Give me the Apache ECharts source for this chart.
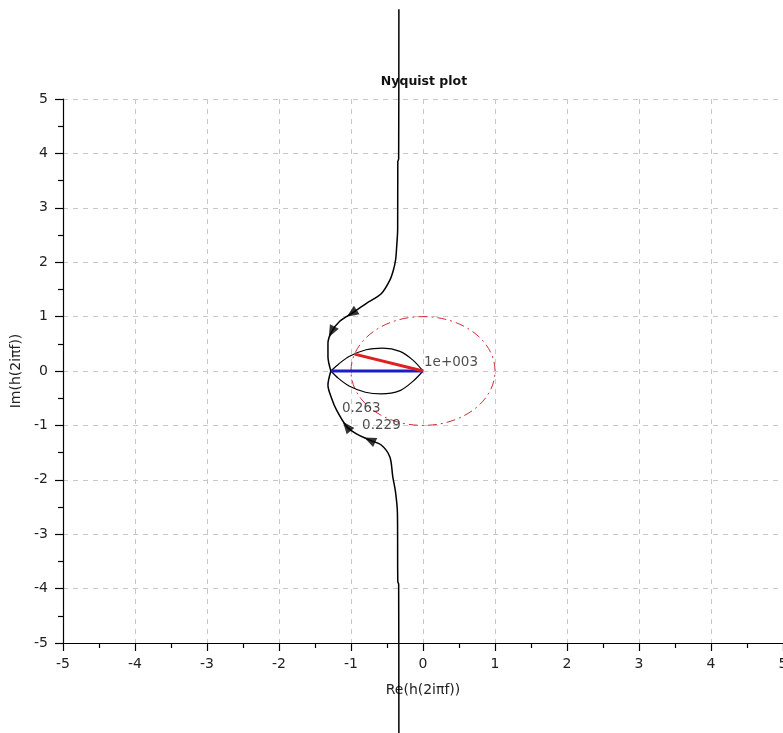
<!DOCTYPE html>
<html>
<head>
<meta charset="utf-8">
<title>Nyquist plot</title>
<script src="https://cdn.jsdelivr.net/npm/echarts@6/dist/echarts.min.js"></script>
<style>
  html, body { margin: 0; padding: 0; background: #ffffff; }
  #chart { width: 783px; height: 733px; }
</style>
</head>
<body>
<div id="chart"></div>
<script>
// Axis range and ticks (both axes run from -5 to 5)
const axisMin = -5;
const axisMax = 5;
const axisStep = 1;

// Nyquist locus: upper branch, traced from the top down to the real-axis crossing
const upperBranch = [
  [-0.335, 6.65], [-0.338, 3.9], [-0.35, 3.85], [-0.352, 2.6], [-0.365, 2.3],
  [-0.38, 2.05], [-0.41, 1.86], [-0.46, 1.67], [-0.58, 1.42], [-0.79, 1.24],
  [-0.99, 1.06], [-1.16, 0.91], [-1.27, 0.72], [-1.32, 0.51], [-1.32, 0.26],
  [-1.28, 0]
];

// Nyquist locus: lower branch, traced from the bottom up to the real-axis crossing
const lowerBranch = [
  [-0.335, -6.75], [-0.338, -3.92], [-0.35, -3.87], [-0.355, -2.62], [-0.38, -2.24],
  [-0.42, -1.94], [-0.46, -1.58], [-0.58, -1.36], [-0.74, -1.27], [-0.93, -1.15],
  [-1.06, -1.02], [-1.20, -0.72], [-1.27, -0.50], [-1.32, -0.26], [-1.28, 0]
];

// Closed loop between the crossing point and the origin
const loopUpper = [
  [-1.28, 0], [-1.17, 0.13], [-1.02, 0.27], [-0.79, 0.39], [-0.56, 0.42],
  [-0.32, 0.36], [-0.14, 0.2], [0, 0]
];
const loopLower = [
  [-1.28, 0], [-1.17, -0.14], [-1.02, -0.28], [-0.80, -0.39], [-0.58, -0.42],
  [-0.32, -0.36], [-0.14, -0.19], [0, 0]
];

// Gain margin segment (blue) and phase margin segment (red)
const gainMargin = [[-1.28, 0], [0, 0]];
const phaseMargin = [[0, 0], [-0.95, 0.31]];

// Unit circle: centre re, centre im, radius
const unitCircle = [[0, 0, 1]];

// Direction arrows: [branch, index of the point on that branch]
const arrowMarks = [
  [upperBranch, 10], [upperBranch, 12],
  [lowerBranch, 8], [lowerBranch, 10]
];

// Frequency annotations: re, im, text
const freqLabels = [
  [0, 0, '1e+003'],
  [-1.14, -0.85, '0.263'],
  [-0.86, -1.16, '0.229']
];

const FONT = 'DejaVu Sans';
const chart = echarts.init(document.getElementById('chart'), null, { renderer: 'canvas' });

function makeAxis(extra) {
  return Object.assign({
    type: 'value',
    min: axisMin,
    max: axisMax,
    interval: axisStep,
    axisLine: { show: true, onZero: false, lineStyle: { color: '#000', width: 1.2 } },
    axisTick: { show: true, inside: false, length: 8, lineStyle: { color: '#000', width: 1.2 } },
    minorTick: { show: true, splitNumber: 2, length: 5, lineStyle: { color: '#000', width: 1.2 } },
    splitLine: { show: true, lineStyle: { color: '#c8c8c8', type: [5, 5], width: 1 } },
    axisLabel: { color: '#222', fontFamily: FONT, fontSize: 14 },
    nameTextStyle: { color: '#222', fontFamily: FONT, fontSize: 14 }
  }, extra);
}

// Bezier approximation of an ellipse in pixel space
function ellipsePath(cx, cy, rx, ry) {
  const k = 0.5522847;
  const ox = rx * k, oy = ry * k;
  return 'M ' + (cx - rx) + ' ' + cy +
    ' C ' + (cx - rx) + ' ' + (cy - oy) + ' ' + (cx - ox) + ' ' + (cy - ry) + ' ' + cx + ' ' + (cy - ry) +
    ' C ' + (cx + ox) + ' ' + (cy - ry) + ' ' + (cx + rx) + ' ' + (cy - oy) + ' ' + (cx + rx) + ' ' + cy +
    ' C ' + (cx + rx) + ' ' + (cy + oy) + ' ' + (cx + ox) + ' ' + (cy + ry) + ' ' + cx + ' ' + (cy + ry) +
    ' C ' + (cx - ox) + ' ' + (cy + ry) + ' ' + (cx - rx) + ' ' + (cy + oy) + ' ' + (cx - rx) + ' ' + cy + ' Z';
}

const curveLine = (id, data, width, smooth) => ({
  id: id,
  type: 'line',
  data: data,
  showSymbol: false,
  symbol: 'none',
  smooth: smooth,
  clip: false,
  silent: true,
  lineStyle: { color: '#000', width: width },
  z: 3
});

chart.setOption({
  animation: false,
  backgroundColor: '#ffffff',
  title: {
    text: 'Nyquist plot',
    left: 419,
    top: 70,
    textAlign: 'center',
    textStyle: { color: '#111', fontFamily: FONT, fontSize: 12.5, fontWeight: 'bold' }
  },
  grid: { left: 63, right: 0, top: 99, bottom: 90, containLabel: false, outerBoundsMode: 'none' },
  xAxis: makeAxis({
    name: 'Re(h(2iπf))',
    nameLocation: 'middle',
    nameGap: 40,
    axisLabel: { color: '#222', fontFamily: FONT, fontSize: 14, margin: 14 }
  }),
  yAxis: makeAxis({
    name: 'Im(h(2iπf))',
    nameLocation: 'middle',
    nameGap: 34,
    axisLabel: { color: '#222', fontFamily: FONT, fontSize: 14, margin: 15 }
  }),
  series: [
    {
      id: 'unitCircle',
      type: 'custom',
      data: unitCircle,
      clip: false,
      silent: true,
      z: 1,
      renderItem: function (params, api) {
        const c = api.coord([api.value(0), api.value(1)]);
        const s = api.size([api.value(2), api.value(2)]);
        return {
          type: 'path',
          shape: { pathData: ellipsePath(c[0], c[1], s[0], s[1]) },
          style: { fill: null, stroke: '#d42a3c', lineWidth: 1, lineDash: [9, 4, 2, 4] }
        };
      }
    },
    curveLine('loopUpper', loopUpper, 1.2, 0.3),
    curveLine('loopLower', loopLower, 1.2, 0.3),
    curveLine('upperBranch', upperBranch, 1.5, 0.3),
    curveLine('lowerBranch', lowerBranch, 1.5, 0.3),
    {
      id: 'gainMargin',
      type: 'line',
      data: gainMargin,
      symbol: 'none',
      silent: true,
      lineStyle: { color: '#1c1cc8', width: 3 },
      z: 4
    },
    {
      id: 'phaseMargin',
      type: 'line',
      data: phaseMargin,
      symbol: 'none',
      silent: true,
      lineStyle: { color: '#dd2020', width: 3 },
      z: 4
    },
    {
      id: 'arrows',
      type: 'scatter',
      data: [],
      symbol: 'triangle',
      symbolSize: [10, 12],
      silent: true,
      itemStyle: { color: '#000' },
      z: 5
    },
    {
      id: 'freqLabels',
      type: 'scatter',
      data: freqLabels.map(d => ({ value: [d[0], d[1]], name: d[2] })),
      symbolSize: 0,
      silent: true,
      label: {
        show: true,
        position: [1, -2],
        align: 'left',
        verticalAlign: 'bottom',
        formatter: p => p.name,
        color: '#222',
        fontFamily: FONT,
        fontSize: 13.5
      },
      z: 6
    }
  ]
});

// Orient each arrow along the locus, using the library's own pixel mapping
const arrowData = arrowMarks.map(([branch, i]) => {
  const p0 = chart.convertToPixel({ gridIndex: 0 }, branch[i - 1]);
  const p1 = chart.convertToPixel({ gridIndex: 0 }, branch[i + 1]);
  const dx = p1[0] - p0[0];
  const dy = p1[1] - p0[1];
  return { value: branch[i], symbolRotate: Math.atan2(-dx, -dy) * 180 / Math.PI };
});
chart.setOption({ series: [{ id: 'arrows', data: arrowData }] });
</script>
</body>
</html>
